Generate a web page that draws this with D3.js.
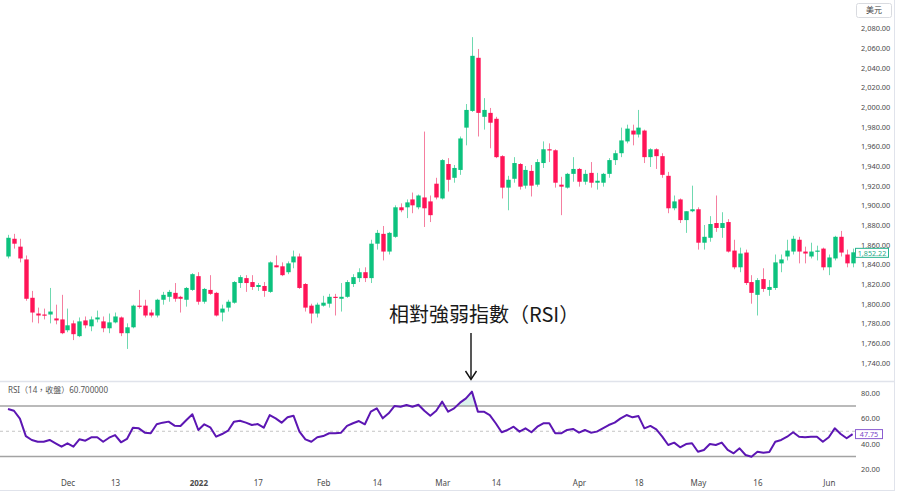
<!DOCTYPE html>
<html>
<head>
<meta charset="utf-8">
<script src="https://d3js.org/d3.v7.min.js"></script>
<style>
  body { margin: 0; background: #fff; }
  svg text { font-family: "Noto Sans", "Noto Sans CJK TC", sans-serif; }
</style>
</head>
<body>
<div id="container"></div>
<script>
// trading days (XAUUSD daily)
const dates = [
  '2021-11-17','2021-11-18','2021-11-19','2021-11-22','2021-11-23','2021-11-24','2021-11-25','2021-11-26','2021-11-29','2021-11-30',
  '2021-12-01','2021-12-02','2021-12-03','2021-12-06','2021-12-07','2021-12-08','2021-12-09','2021-12-10','2021-12-13','2021-12-14',
  '2021-12-15','2021-12-16','2021-12-17','2021-12-20','2021-12-21','2021-12-22','2021-12-23','2021-12-27','2021-12-28','2021-12-29',
  '2021-12-30','2021-12-31','2022-01-03','2022-01-04','2022-01-05','2022-01-06','2022-01-07','2022-01-10','2022-01-11','2022-01-12',
  '2022-01-13','2022-01-14','2022-01-17','2022-01-18','2022-01-19','2022-01-20','2022-01-21','2022-01-24','2022-01-25','2022-01-26',
  '2022-01-27','2022-01-28','2022-01-31','2022-02-01','2022-02-02','2022-02-03','2022-02-04','2022-02-07','2022-02-08','2022-02-09',
  '2022-02-10','2022-02-11','2022-02-14','2022-02-15','2022-02-16','2022-02-17','2022-02-18','2022-02-21','2022-02-22','2022-02-23',
  '2022-02-24','2022-02-25','2022-02-28','2022-03-01','2022-03-02','2022-03-03','2022-03-04','2022-03-07','2022-03-08','2022-03-09',
  '2022-03-10','2022-03-11','2022-03-14','2022-03-15','2022-03-16','2022-03-17','2022-03-18','2022-03-21','2022-03-22','2022-03-23',
  '2022-03-24','2022-03-25','2022-03-28','2022-03-29','2022-03-30','2022-03-31','2022-04-01','2022-04-04','2022-04-05','2022-04-06',
  '2022-04-07','2022-04-08','2022-04-11','2022-04-12','2022-04-13','2022-04-14','2022-04-18','2022-04-19','2022-04-20','2022-04-21',
  '2022-04-22','2022-04-25','2022-04-26','2022-04-27','2022-04-28','2022-04-29','2022-05-02','2022-05-03','2022-05-04','2022-05-05',
  '2022-05-06','2022-05-09','2022-05-10','2022-05-11','2022-05-12','2022-05-13','2022-05-16','2022-05-17','2022-05-18','2022-05-19',
  '2022-05-20','2022-05-23','2022-05-24','2022-05-25','2022-05-26','2022-05-27','2022-05-30','2022-05-31','2022-06-01','2022-06-02',
  '2022-06-03','2022-06-06','2022-06-07'
];

const open = [
  1848,1866,1858,1845,1806,1790,1789,1789,1785,1784, 1773,1780,1767,1783,1777,1784,1782,1775,1781,1786,
  1770,1776,1798,1798,1791,1788,1804,1807,1811,1807, 1804,1814,1828,1802,1814,1811,1791,1796,1801,1821,
  1826,1822,1817,1818,1812,1839,1838,1832,1842,1848, 1820,1798,1790,1798,1800,1807,1805,1807,1820,1826,
  1832,1826,1861,1871,1853,1868,1898,1898,1906,1898, 1908,1904,1922,1907,1942,1928,1936,1979,1996,2050,
  1990,1994,1988,1950,1918,1927,1942,1920,1935,1921, 1943,1957,1956,1921,1918,1932,1937,1924,1933,1923,
  1923,1932,1946,1953,1965,1976,1972,1976,1949,1957, 1950,1930,1897,1906,1885,1894,1896,1862,1867,1882,
  1877,1883,1854,1837,1852,1822,1809,1825,1814,1816, 1841,1848,1853,1865,1853,1848,1853,1856,1837,1846,
  1868,1850,1841
];
const high = [
  1870,1871,1866,1849,1813,1796,1795,1816,1799,1809, 1795,1783,1786,1787,1787,1793,1787,1790,1791,1787,
  1780,1799,1814,1804,1794,1805,1812,1814,1821,1808, 1817,1831,1832,1816,1829,1812,1799,1804,1823,1829,
  1829,1829,1821,1822,1843,1849,1842,1843,1854,1851, 1821,1800,1801,1808,1810,1810,1821,1824,1830,1836,
  1837,1865,1875,1879,1873,1900,1902,1906,1913,1911, 1975,1910,1928,1947,1948,1941,1970,2003,2071,2059,
  2009,1999,1990,1951,1930,1949,1943,1940,1941,1947, 1965,1963,1957,1929,1933,1949,1938,1936,1944,1933,
  1933,1948,1956,1979,1982,1982,1997,1977,1958,1958, 1953,1934,1910,1907,1894,1920,1898,1880,1889,1910,
  1893,1886,1865,1857,1855,1829,1826,1836,1824,1850, 1850,1865,1869,1868,1858,1862,1859,1857,1850,1869,
  1874,1855,1856
];
const low = [
  1846,1856,1842,1803,1781,1780,1784,1780,1779,1769, 1771,1763,1766,1775,1772,1781,1771,1770,1780,1767,
  1754,1775,1795,1786,1786,1786,1799,1802,1802,1791, 1797,1813,1799,1800,1809,1787,1782,1792,1800,1816,
  1812,1814,1813,1807,1811,1837,1828,1830,1836,1815, 1792,1780,1786,1797,1796,1788,1792,1806,1817,1822,
  1822,1821,1855,1844,1850,1867,1893,1887,1892,1896, 1878,1883,1906,1906,1914,1923,1931,1961,1995,1970,
  1977,1958,1948,1907,1895,1923,1916,1917,1909,1919, 1938,1944,1918,1890,1917,1924,1919,1921,1918,1916,
  1919,1928,1941,1949,1963,1961,1969,1943,1939,1937, 1928,1892,1895,1882,1872,1893,1855,1855,1863,1873,
  1867,1852,1835,1832,1819,1800,1788,1812,1808,1814, 1832,1844,1850,1841,1841,1846,1844,1834,1829,1844,
  1848,1837,1837
];
const close = [
  1867,1861,1846,1805,1791,1788,1788,1792,1783,1770, 1778,1769,1782,1778,1784,1786,1775,1781,1787,1770,
  1776,1798,1797,1788,1788,1804,1809,1812,1805,1805, 1816,1830,1802,1815,1810,1788,1795,1802,1822,1827,
  1821,1817,1819,1813,1842,1837,1829,1841,1848,1816, 1796,1790,1799,1801,1807,1806,1807,1822,1827,1832,
  1826,1861,1872,1853,1872,1898,1895,1903,1900,1910, 1897,1890,1908,1946,1926,1938,1968,1997,2052,1994,
  1997,1984,1949,1918,1926,1943,1919,1936,1920,1944, 1957,1956,1923,1919,1932,1937,1924,1932,1923,1925,
  1932,1946,1953,1966,1978,1972,1979,1949,1957,1950, 1931,1897,1904,1885,1894,1896,1862,1868,1881,1877,
  1882,1853,1837,1851,1821,1811,1824,1815,1817,1842, 1845,1854,1866,1853,1851,1853,1854,1837,1847,1868,
  1852,1841,1852.22
];
const rsi = [
  67.6,66.2,60.0,46.2,43.1,41.7,41.7,43.1,40.5,37.8, 40.5,37.8,43.6,42.5,45.2,45.2,41.7,44.9,47.0,41.3,
  43.9,52.8,52.3,48.9,48.4,55.5,56.8,57.6,54.4,54.2, 58.9,63.4,51.0,55.5,53.1,45.7,47.8,50.4,57.6,58.3,
  56.8,54.9,55.7,52.8,62.8,60.2,56.8,61.0,62.3,49.7, 43.6,41.7,45.2,46.2,48.4,48.4,48.9,54.2,56.3,58.1,
  55.5,65.5,68.1,60.2,64.2,70.0,69.4,70.8,69.4,71.0, 66.2,62.3,66.2,73.4,65.5,68.1,72.6,76.0,81.3,65.5,
  65.5,62.8,56.3,49.2,51.0,53.6,49.7,52.3,49.2,53.6, 56.3,56.3,48.4,48.4,51.0,51.8,48.9,51.0,48.9,49.7,
  52.3,54.9,56.8,60.2,62.8,61.0,62.0,52.3,54.2,51.5, 45.7,39.1,41.0,37.3,39.9,40.5,33.8,35.2,39.9,39.1,
  41.0,35.2,32.6,36.5,31.2,29.9,33.8,33.0,33.6,41.7, 43.1,45.7,49.2,45.7,45.2,45.7,45.7,41.7,45.2,52.3,
  47.8,44.5,47.75
];

const tickDates  = ['2021-12-01','2021-12-13','2022-01-03','2022-01-17','2022-02-01','2022-02-14','2022-03-01','2022-03-14','2022-04-01','2022-04-18','2022-05-02','2022-05-16','2022-06-01'];
const tickLabels = ['Dec','13','2022','17','Feb','14','Mar','14','Apr','18','May','16','Jun'];
const priceTicks = d3.range(1740, 2081, 20);
const rsiTicks = [20, 40, 60, 80];
const rsiLevels = [70, 30];

const w = 900, h = 492;
const upColor = '#0cc27e', downColor = '#ff1457';
const upWick = '#6fd9b0', downWick = '#f57fa0';
const rsiColor = '#5c16b3';

const svg = d3.select('#container').append('svg')
  .attr('width', w).attr('height', h);

const xScale = d3.scalePoint().domain(dates).range([8, 852.6]);
const yScale = d3.scaleLinear().domain([1740, 2080]).range([362.7, 28.3]);
const rsiScale = d3.scaleLinear().domain([20, 80]).range([469.2, 393.3]);

// frame
svg.append('line').attr('x1', 0).attr('x2', 895).attr('y1', 381.5).attr('y2', 381.5)
  .attr('stroke', '#e0e3eb').attr('stroke-width', 1.5);
svg.append('line').attr('x1', 894.5).attr('x2', 894.5).attr('y1', 0).attr('y2', 491)
  .attr('stroke', '#e0e3eb');
svg.append('line').attr('x1', 0).attr('x2', 895).attr('y1', 490.5).attr('y2', 490.5)
  .attr('stroke', '#e0e3eb');

// candles
const idx = d3.range(dates.length);
const cx = i => Math.round(xScale(dates[i])) + 0.5;

svg.append('g').selectAll('line')
  .data(idx).enter().append('line')
  .attr('x1', cx).attr('x2', cx)
  .attr('y1', i => yScale(high[i]))
  .attr('y2', i => yScale(low[i]))
  .attr('stroke', i => close[i] >= open[i] ? upWick : downWick)
  .attr('stroke-width', 1);

svg.append('g').selectAll('rect')
  .data(idx).enter().append('rect')
  .attr('x', i => cx(i) - 2.2)
  .attr('width', 4.4)
  .attr('y', i => yScale(Math.max(open[i], close[i])))
  .attr('height', i => Math.max(1.2, Math.abs(yScale(open[i]) - yScale(close[i]))))
  .attr('fill', i => close[i] >= open[i] ? upColor : downColor);

// price axis
const yAxis = d3.axisRight(yScale).tickValues(priceTicks)
  .tickFormat(d3.format(',.2f')).tickSize(0).tickPadding(3);
const gy = svg.append('g').attr('transform', 'translate(858,0)').call(yAxis);
gy.select('.domain').remove();
gy.selectAll('text').attr('font-size', '7.4px').attr('fill', '#4b4b4b');

// currency box
svg.append('rect').attr('x', 856.5).attr('y', 3.5).attr('width', 35).attr('height', 14).attr('rx', 2)
  .attr('fill', '#fff').attr('stroke', '#d9dbe0');
svg.append('text').attr('x', 874).attr('y', 13.3).attr('text-anchor', 'middle')
  .attr('font-size', '8px').attr('fill', '#444').text('美元');

// last price label
const lastY = yScale(close[close.length - 1]);
svg.append('rect').attr('x', 855.5).attr('y', lastY - 4).attr('width', 33).attr('height', 9)
  .attr('fill', '#fff').attr('stroke', '#26b38f');
svg.append('text').attr('x', 872).attr('y', lastY + 3.2).attr('text-anchor', 'middle')
  .attr('font-size', '7.2px').attr('fill', '#1faa86').text(d3.format(',.2f')(close[close.length - 1]));

// RSI panel
const clipTop = svg.append('clipPath').attr('id', 'ob');
clipTop.append('rect').attr('x', 0).attr('y', 382).attr('width', 856).attr('height', rsiScale(70) - 382);
const clipBot = svg.append('clipPath').attr('id', 'os');
clipBot.append('rect').attr('x', 0).attr('y', rsiScale(30)).attr('width', 856).attr('height', 475 - rsiScale(30));

svg.append('path').datum(idx)
  .attr('clip-path', 'url(#ob)')
  .attr('fill', 'rgba(38,179,143,0.16)')
  .attr('d', d3.area().x(i => xScale(dates[i])).y0(rsiScale(70)).y1(i => rsiScale(rsi[i])));
svg.append('path').datum(idx)
  .attr('clip-path', 'url(#os)')
  .attr('fill', 'rgba(255,20,87,0.10)')
  .attr('d', d3.area().x(i => xScale(dates[i])).y0(rsiScale(30)).y1(i => rsiScale(rsi[i])));

svg.append('g').selectAll('line')
  .data(rsiLevels).enter().append('line')
  .attr('x1', 0).attr('x2', 856)
  .attr('y1', d => rsiScale(d)).attr('y2', d => rsiScale(d))
  .attr('stroke', '#a3a3a3').attr('stroke-width', 1.4);
svg.append('line').attr('x1', 0).attr('x2', 856)
  .attr('y1', rsiScale(50)).attr('y2', rsiScale(50))
  .attr('stroke', '#c4c4c4').attr('stroke-dasharray', '3,3');

svg.append('path').datum(idx)
  .attr('fill', 'none').attr('stroke', rsiColor).attr('stroke-width', 2)
  .attr('stroke-linejoin', 'round')
  .attr('d', d3.line().x(i => xScale(dates[i])).y(i => rsiScale(rsi[i])));

const rAxis = d3.axisRight(rsiScale).tickValues(rsiTicks)
  .tickFormat(d3.format('.2f')).tickSize(0).tickPadding(3);
const gr = svg.append('g').attr('transform', 'translate(858,0)').call(rAxis);
gr.select('.domain').remove();
gr.selectAll('text').attr('font-size', '7.4px').attr('fill', '#4b4b4b');

const lastR = rsiScale(rsi[rsi.length - 1]);
svg.append('rect').attr('x', 855.5).attr('y', lastR - 4.5).attr('width', 27).attr('height', 9)
  .attr('fill', '#fff').attr('stroke', '#8a5cd0');
svg.append('text').attr('x', 869).attr('y', lastR + 2.8).attr('text-anchor', 'middle')
  .attr('font-size', '7.2px').attr('fill', '#7a45c9').text(d3.format('.2f')(rsi[rsi.length - 1]));

svg.append('text').attr('x', 8).attr('y', 393)
  .attr('font-size', '8px').attr('fill', '#555')
  .text('RSI（14，收盤）60.700000');

// time axis
const xAxis = d3.axisBottom(xScale).tickValues(tickDates)
  .tickFormat((d, i) => tickLabels[i]).tickSize(0).tickPadding(0);
const gx = svg.append('g').attr('transform', 'translate(0,480)').call(xAxis);
gx.select('.domain').remove();
gx.selectAll('text').attr('font-size', '8px').attr('fill', '#4b4b4b')
  .attr('font-weight', d => d.slice(5) === '01-03' ? 'bold' : 'normal');

// annotation
svg.append('text').attr('x', 389).attr('y', 322)
  .attr('font-size', '20px').attr('fill', '#1a1a1a')
  .style('font-family', '"Noto Sans CJK TC", sans-serif')
  .text('相對強弱指數（RSI）');
svg.append('line').attr('x1', 471).attr('x2', 471).attr('y1', 333).attr('y2', 379)
  .attr('stroke', '#111').attr('stroke-width', 1.4);
svg.append('path').attr('d', 'M465.5,371 L471,379.5 L476.5,371')
  .attr('fill', 'none').attr('stroke', '#111').attr('stroke-width', 1.4);
</script>
</body>
</html>
